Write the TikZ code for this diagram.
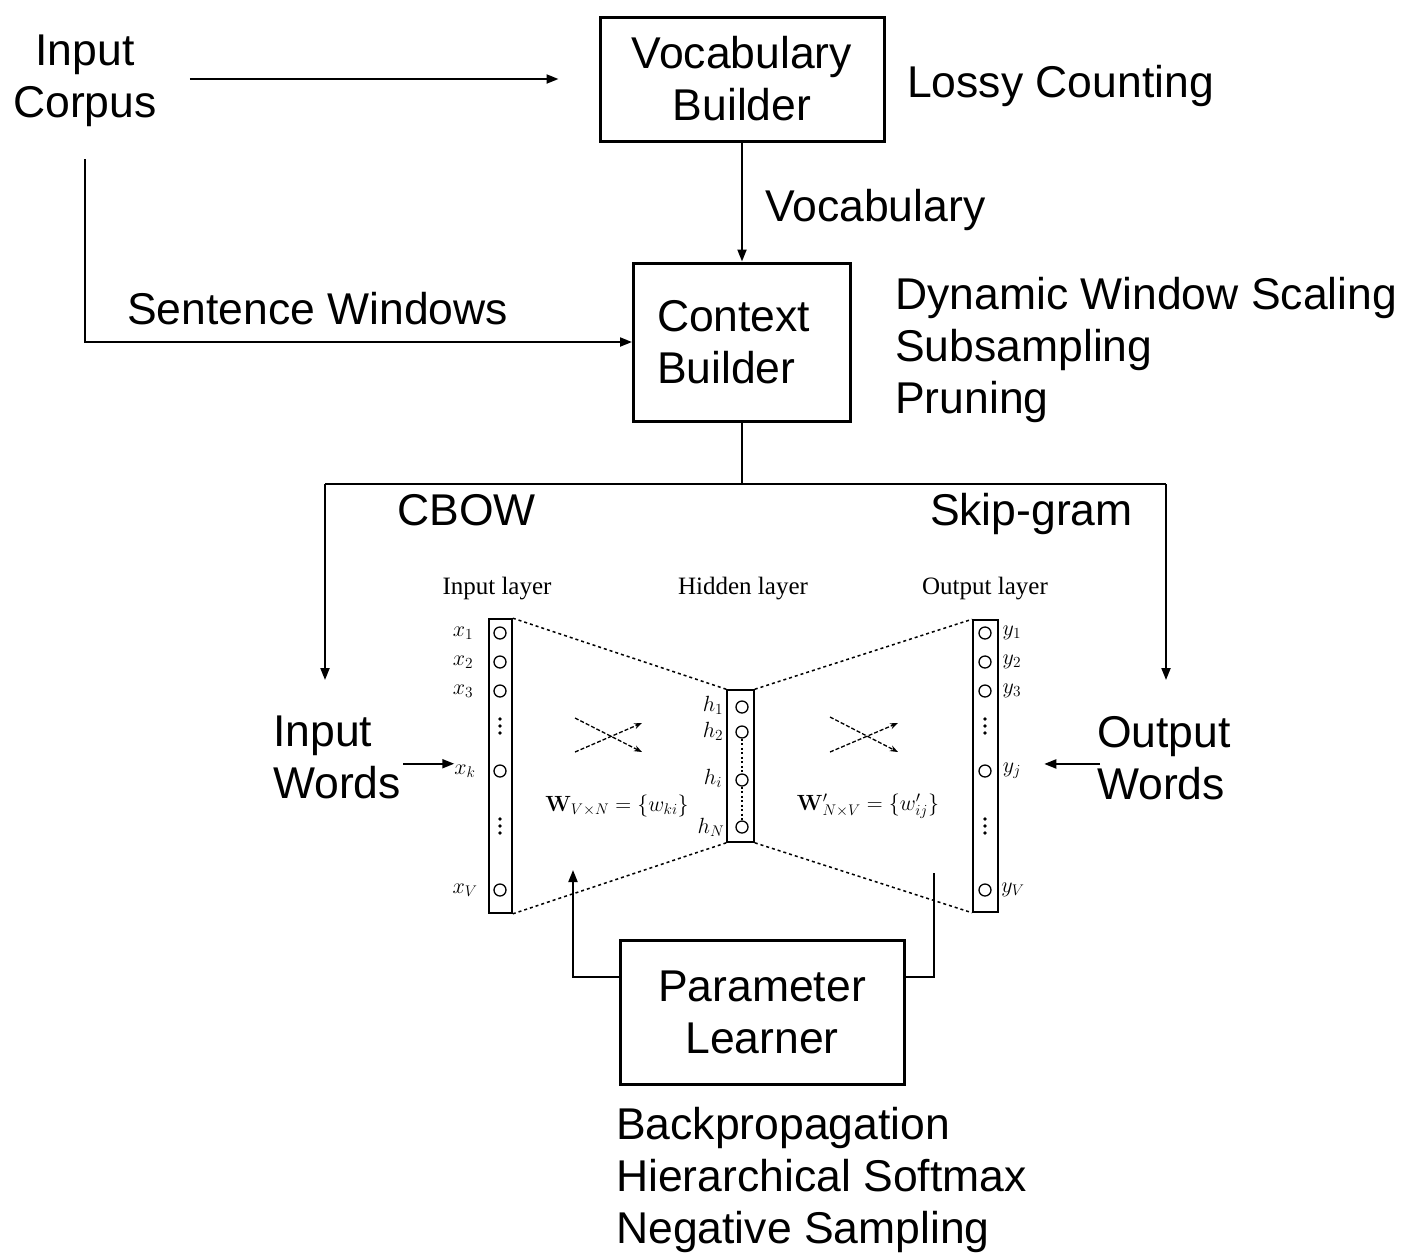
\RequirePackage{fix-cm}
\documentclass[tikz,border=0pt]{standalone}
\usepackage[no-math]{fontspec}
\setmainfont{Liberation Sans}
\newfontfamily\layerfont{Liberation Serif}
\usetikzlibrary{arrows.meta,calc}

\tikzset{
  big/.style={font=\fontsize{44.5}{52}\selectfont, inner sep=0pt},
  stage/.style={draw, line width=3pt, big, align=center},
  conn/.style={line width=2pt},
  arr/.style={conn, -{Triangle[length=12pt,width=9pt]}},
  layer/.style={draw, line width=1.6pt, inner sep=0pt},
  unit/.style={circle, draw, line width=1.3pt, minimum size=12pt, inner sep=0pt},
  title/.style={font=\layerfont\fontsize{25}{28}\selectfont, inner sep=0pt},
  var/.style={font=\fontsize{22}{26}\selectfont, inner sep=0pt},
  edge/.style={line width=1.5pt, dash pattern=on 3pt off 3pt},
  flow/.style={line width=1.3pt, dash pattern=on 4pt off 2pt, -{Stealth[length=8pt,width=6pt]}},
  dotcol/.style={line width=2.2pt, dash pattern=on 2pt off 2.5pt},
}

\begin{document}
\begin{tikzpicture}[x=1pt, y=-1pt]
\useasboundingbox (0,0) rectangle (1402,1254);

% ---- pipeline stages ----
\node[big, align=center, anchor=north] (corpus) at (85,35) {Input\\Corpus};
\node[stage, minimum width=284pt, minimum height=124pt] (vocab) at (742,79) {Vocabulary\\Builder};
\node[big, anchor=base west] (lossy) at (907,97) {Lossy Counting};
\node[stage, minimum width=217pt, minimum height=158pt, text width=170pt, align=left] (ctx) at (742,342) {Context\\Builder};
\node[big, anchor=base west] (vocablbl) at (765,221) {Vocabulary};
\node[big, anchor=base west] (sentlbl) at (127,324) {Sentence Windows};
\node[big, anchor=north west, align=left] (ctxopts) at (895,277) {Dynamic Window Scaling\\Subsampling\\Pruning};

\draw[arr] ($(corpus.east |- vocab.west)+(33,0)$) -- ($(vocab.west)+(-40,0)$);
\draw[arr] (vocab.south) -- (ctx.north);
\draw[arr] ([yshift=-32pt]corpus.south) |- (ctx.west);

% ---- split into the two model variants ----
\coordinate (split) at (742,484);
\coordinate (cbowtop) at (325,484);
\coordinate (skiptop) at (1166,484);
\coordinate (cbowend) at (325,680);
\coordinate (skipend) at (1166,680);
\draw[conn] (ctx.south) -- (split);
\draw[conn] (cbowtop) -- (skiptop);
\draw[arr] (cbowtop) -- (cbowend);
\draw[arr] (skiptop) -- (skipend);
\node[big, anchor=base west] (cbow) at (397,525) {CBOW};
\node[big, anchor=base east] (skip) at (1133,525) {Skip-gram};

% ---- network ----
\node[title] (tin) at (497,589) {Input layer};
\node[title] (thid) at (743,589) {Hidden layer};
\node[title] (tout) at (985,589) {Output layer};

\node[layer, minimum width=23pt, minimum height=294pt] (inlayer) at (500.5,766) {};
\node[layer, minimum width=27pt, minimum height=152pt] (hidlayer) at (740.5,766) {};
\node[layer, minimum width=25pt, minimum height=292pt] (outlayer) at (985.5,766) {};

\draw[edge] (inlayer.north east) -- (hidlayer.north west);
\draw[edge] (inlayer.south east) -- (hidlayer.south west);
\draw[edge] (hidlayer.north east) -- (outlayer.north west);
\draw[edge] (hidlayer.south east) -- (outlayer.south west);

% input units
\node[unit] (x1) at (500,633) {};
\node[unit] (x2) at (500,662) {};
\node[unit] (x3) at (500,691) {};
\node[unit] (xk) at (500,771) {};
\node[unit] (xV) at (500,890) {};
\node[var] (lx1) at (463,633) {$x_1$};
\node[var] (lx2) at (463,662) {$x_2$};
\node[var] (lx3) at (463,691) {$x_3$};
\node[var] (lxk) at (465,771) {$x_k$};
\node[var] (lxV) at (465,890) {$x_V$};
\foreach \y in {719,726,733,819,826,833} \fill (500,\y) circle (1.8pt);

% hidden units
\node[unit] (h1) at (742,707) {};
\node[unit] (h2) at (742,732) {};
\node[unit] (hi) at (742,780) {};
\node[unit] (hN) at (742,827) {};
\node[var] (lh1) at (713,705) {$h_1$};
\node[var] (lh2) at (713,731) {$h_2$};
\node[var] (lhi) at (713,778) {$h_i$};
\node[var] (lhN) at (711,827) {$h_N$};
\draw[dotcol] (h2.south) -- (hi.north);
\draw[dotcol] (hi.south) -- (hN.north);

% output units
\node[unit] (y1) at (985,633) {};
\node[unit] (y2) at (985,662) {};
\node[unit] (y3) at (985,691) {};
\node[unit] (yj) at (985,771) {};
\node[unit] (yV) at (985,890) {};
\node[var] (ly1) at (1012,633) {$y_1$};
\node[var] (ly2) at (1012,662) {$y_2$};
\node[var] (ly3) at (1012,691) {$y_3$};
\node[var] (lyj) at (1012,771) {$y_j$};
\node[var] (lyV) at (1013,890) {$y_V$};
\foreach \y in {719,726,733,819,826,833} \fill (985,\y) circle (1.8pt);

% weight matrices
\draw[flow] (575,718) -- (642,752);
\draw[flow] (575,752) -- (642,723);
\draw[flow] (830,717) -- (898,752);
\draw[flow] (830,752) -- (898,723);
\node[var] (wl) at (617,806) {$\mathbf{W}_{V\times N}=\{w_{ki}\}$};
\node[var] (wr) at (868,806) {$\mathbf{W}'_{N\times V}=\{w'_{ij}\}$};

% ---- words in and out ----
\node[big, anchor=north west, align=left] (inw) at (273,716) {Input\\Words};
\node[big, anchor=north west, align=left] (outw) at (1097,716) {Output\\Words};
\draw[arr] ($(inw.east)+(2,6)$) coordinate (iwa) -- (iwa -| lxk.west);
\draw[arr] ($(outw.west)+(3,6)$) coordinate (owa) -- ($(owa -| lyj.east)+(23,0)$);

% ---- parameter learner ----
\node[stage, minimum width=284pt, minimum height=144pt] (pl) at (762,1012) {Parameter\\Learner};
\coordinate (wtip) at (573,870);
\coordinate (wout) at (934,873);
\draw[arr] ([yshift=35pt]pl.west) -| (wtip);
\draw[conn] ([yshift=35pt]pl.east) -| (wout);
\node[big, anchor=north west, align=left] (methods) at (616,1107) {Backpropagation\\Hierarchical Softmax\\Negative Sampling};
\end{tikzpicture}
\end{document}
